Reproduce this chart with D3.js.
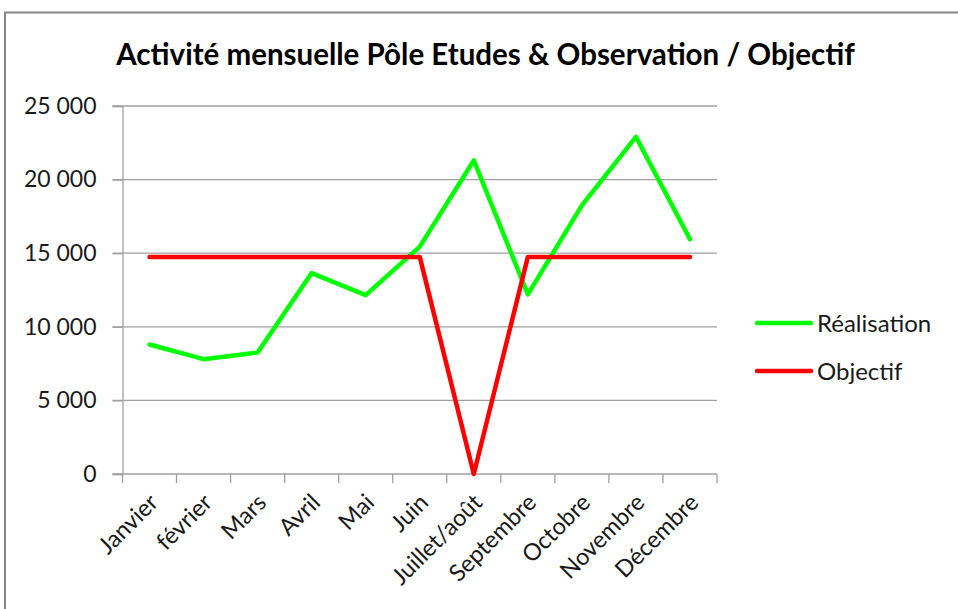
<!DOCTYPE html>
<html>
<head>
<meta charset="utf-8">
<script src="https://cdn.jsdelivr.net/npm/d3@7"></script>
<style>
  body { margin: 0; background: #fff; }
  svg { display: block; font-family: Lato, "Open Sans", sans-serif; }
</style>
</head>
<body>
<script>
// values
var months = ["Janvier", "février", "Mars", "Avril", "Mai", "Juin", "Juillet/août", "Septembre", "Octobre", "Novembre", "Décembre"];
var realisation = [8800, 7800, 8250, 13650, 12150, 15450, 21300, 12200, 18250, 22900, 15950];
var objectif = [14750, 14750, 14750, 14750, 14750, 14750, 0, 14750, 14750, 14750, 14750];
var yTicks = [0, 5000, 10000, 15000, 20000, 25000];
var seriesNames = ["Réalisation", "Objectif"];
var seriesColors = ["#00ff00", "#ff0000"];

var svgWidth = 958, svgHeight = 609;
var margin = {top: 106, right: 241, bottom: 135, left: 122.5};
var width = svgWidth - margin.left - margin.right;
var height = svgHeight - margin.top - margin.bottom;

var svg = d3.select("body").append("svg")
  .attr("width", svgWidth)
  .attr("height", svgHeight);

// outer frame of the chart area
svg.append("rect")
  .attr("x", 5).attr("y", 12.5)
  .attr("width", 1000).attr("height", 700)
  .attr("fill", "#fff")
  .attr("stroke", "#868686")
  .attr("stroke-width", 2);

// title, fitted to the width it has in the picture
var title = svg.append("text")
  .attr("x", 485.5).attr("y", 65)
  .attr("text-anchor", "middle")
  .attr("font-weight", "bold")
  .attr("font-size", 26)
  .attr("fill", "#000")
  .text("Activité mensuelle Pôle Etudes & Observation / Objectif");
var tw = title.node().getComputedTextLength();
title.attr("font-size", 26 * 739 / tw);

var chart = svg.append("g")
  .attr("transform", "translate(" + margin.left + "," + margin.top + ")");

var x = d3.scaleBand().domain(months).range([0, width]);
var y = d3.scaleLinear().domain([0, 25000]).range([height, 0]);

// gridlines
chart.append("g")
  .selectAll("line")
  .data(yTicks.filter(function(d) { return d > 0; }))
  .enter().append("line")
  .attr("x1", -10).attr("x2", width)
  .attr("y1", function(d) { return y(d); })
  .attr("y2", function(d) { return y(d); })
  .attr("stroke", "#a0a0a0")
  .attr("stroke-width", 1.3);

var fmt = function(d) { return d3.format(",")(d).replace(/,/g, " "); };

var leftAxis = d3.axisLeft(y).tickValues(yTicks).tickFormat(fmt).tickSize(10).tickPadding(16);
var yAxis = chart.append("g").call(leftAxis);
yAxis.select(".domain").attr("stroke", "#a0a0a0").attr("stroke-width", 1.3);
yAxis.selectAll(".tick line").attr("stroke", "#a0a0a0").attr("stroke-width", 1.3);
yAxis.selectAll(".tick text")
  .attr("font-family", "Lato, sans-serif")
  .attr("font-size", 23)
  .attr("fill", "#1a1a1a");

// x axis: ticks sit on the band edges, like Excel
var xAxis = chart.append("g").attr("transform", "translate(0," + height + ")");
xAxis.append("line")
  .attr("x1", -10).attr("x2", width)
  .attr("stroke", "#a0a0a0").attr("stroke-width", 1.3);
xAxis.selectAll(".edge")
  .data(d3.range(months.length + 1))
  .enter().append("line")
  .attr("class", "edge")
  .attr("x1", function(i) { return i * x.step(); })
  .attr("x2", function(i) { return i * x.step(); })
  .attr("y1", 0).attr("y2", 9)
  .attr("stroke", "#a0a0a0").attr("stroke-width", 1.3);

xAxis.selectAll(".lbl")
  .data(months)
  .enter().append("text")
  .attr("class", "lbl")
  .attr("text-anchor", "end")
  .attr("font-size", 23.5)
  .attr("fill", "#1a1a1a")
  .attr("transform", function(d) {
    return "translate(" + (x(d) + x.bandwidth() / 2 + 10) + ",30) rotate(-45)";
  })
  .text(function(d) { return d; });

// lines
var line = d3.line()
  .x(function(d, i) { return x(months[i]) + x.bandwidth() / 2; })
  .y(function(d) { return y(d); });

[realisation, objectif].forEach(function(values, k) {
  chart.append("path")
    .datum(values)
    .attr("fill", "none")
    .attr("stroke", seriesColors[k])
    .attr("stroke-width", 4.5)
    .attr("stroke-linejoin", "round")
    .attr("stroke-linecap", "round")
    .attr("d", line);
});

// legend
var legend = svg.append("g").attr("transform", "translate(757,323)");
var items = legend.selectAll("g")
  .data(seriesNames)
  .enter().append("g")
  .attr("transform", function(d, i) { return "translate(0," + i * 48 + ")"; });
items.append("line")
  .attr("x1", 0).attr("x2", 54)
  .attr("stroke", function(d, i) { return seriesColors[i]; })
  .attr("stroke-width", 4.5)
  .attr("stroke-linecap", "round");
items.append("text")
  .attr("x", 60).attr("y", 8.5)
  .attr("font-size", 24)
  .attr("fill", "#1a1a1a")
  .text(function(d) { return d; });
</script>
</body>
</html>
